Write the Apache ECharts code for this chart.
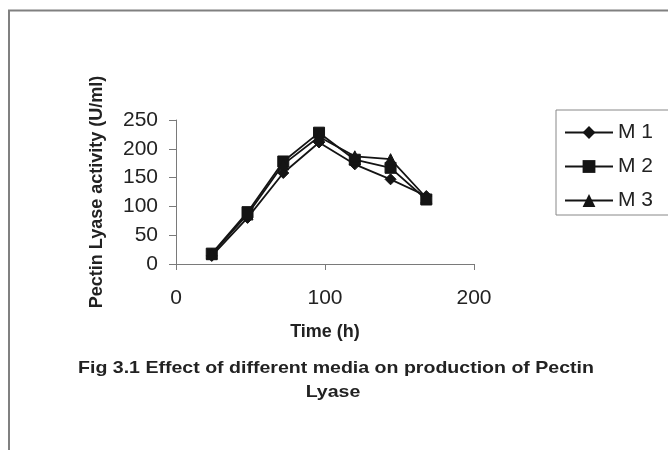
<!DOCTYPE html>
<html>
<head>
<meta charset="utf-8">
<script src="https://cdn.jsdelivr.net/npm/echarts@6/dist/echarts.min.js"></script>
<style>
html,body{margin:0;padding:0;background:#fff;}
#chart{width:668px;height:450px;}
</style>
</head>
<body>
<div id="chart"></div>
<script>
var times = [24, 48, 72, 96, 120, 144, 168];
var seriesNames = ['M 1', 'M 2', 'M 3'];
var m1 = [14, 80, 158, 211, 173, 147, 118];
var m2 = [18, 90, 178, 228, 181, 167, 112];
var m3 = [17, 86, 173, 221, 187, 182, 115];
var xTicks = [0, 100, 200];
var yTicks = [0, 50, 100, 150, 200, 250];
var captionLines = ['Fig 3.1 Effect of different media on production of Pectin', 'Lyase'];

function pairs(vals) { return times.map(function (t, i) { return [t, vals[i]]; }); }

var chart = echarts.init(document.getElementById('chart'), null, { renderer: 'canvas' });
var ink = '#141414';
var axisGray = '#7a7a7a';
var font = 'Liberation Sans, Arial, sans-serif';

function lineSeries(name, vals, symbol, size) {
  return {
    name: name, type: 'line', data: pairs(vals),
    symbol: symbol, symbolSize: size, showAllSymbol: true,
    lineStyle: { color: ink, width: 1.8 },
    itemStyle: { color: ink, borderColor: ink },
    emphasis: { disabled: true }, animation: false
  };
}

chart.setOption({
  backgroundColor: '#fff',
  animation: false,
  textStyle: { fontFamily: font },
  grid: { left: 176, top: 120, width: 298, height: 144, containLabel: false },
  xAxis: {
    type: 'value', min: xTicks[0], max: xTicks[xTicks.length - 1], interval: 100,
    name: 'Time (h)', nameLocation: 'middle', nameGap: 59,
    nameTextStyle: { fontSize: 18, fontWeight: 'bold', color: '#222', fontFamily: font },
    axisLine: { show: true, lineStyle: { color: axisGray, width: 1 } },
    axisTick: { show: true, length: 6, lineStyle: { color: axisGray } },
    axisLabel: { fontSize: 21, color: '#222', margin: 24, fontFamily: font },
    splitLine: { show: false }
  },
  yAxis: {
    type: 'value', min: yTicks[0], max: yTicks[yTicks.length - 1], interval: 50,
    name: 'Pectin Lyase activity (U/ml)', nameLocation: 'middle', nameGap: 70, nameRotate: 90,
    nameTextStyle: { fontSize: 18, fontWeight: 'bold', color: '#222', fontFamily: font },
    axisLine: { show: true, lineStyle: { color: axisGray, width: 1 } },
    axisTick: { show: true, length: 7, lineStyle: { color: axisGray } },
    axisLabel: { fontSize: 21, color: '#222', margin: 18, fontFamily: font },
    splitLine: { show: false }
  },
  legend: {
    orient: 'vertical', left: 556, top: 110,
    data: seriesNames,
    itemWidth: 48, itemHeight: 16, itemGap: 13,
    padding: [12, 80, 4, 8],
    borderColor: '#888', borderWidth: 1,
    textStyle: { fontSize: 21, color: '#222', fontFamily: font, lineHeight: 21 },
    selectedMode: false
  },
  series: [
    lineSeries(seriesNames[0], m1, 'diamond', 11),
    lineSeries(seriesNames[1], m2, 'rect', 11),
    lineSeries(seriesNames[2], m3, 'triangle', 11)
  ],
  graphic: [
    { type: 'rect', silent: true, z: -10,
      shape: { x: 9, y: 10.5, width: 720, height: 500 },
      style: { fill: null, stroke: '#808080', lineWidth: 2 } },
    { type: 'text', x: 336, y: 368, scaleX: 1.15, silent: true,
      style: { text: captionLines[0], fill: '#222',
               font: 'bold 17px Liberation Sans, Arial, sans-serif', align: 'center', verticalAlign: 'middle' } },
    { type: 'text', x: 333, y: 392, scaleX: 1.15, silent: true,
      style: { text: captionLines[1], fill: '#222',
               font: 'bold 17px Liberation Sans, Arial, sans-serif', align: 'center', verticalAlign: 'middle' } }
  ]
});
</script>
</body>
</html>
